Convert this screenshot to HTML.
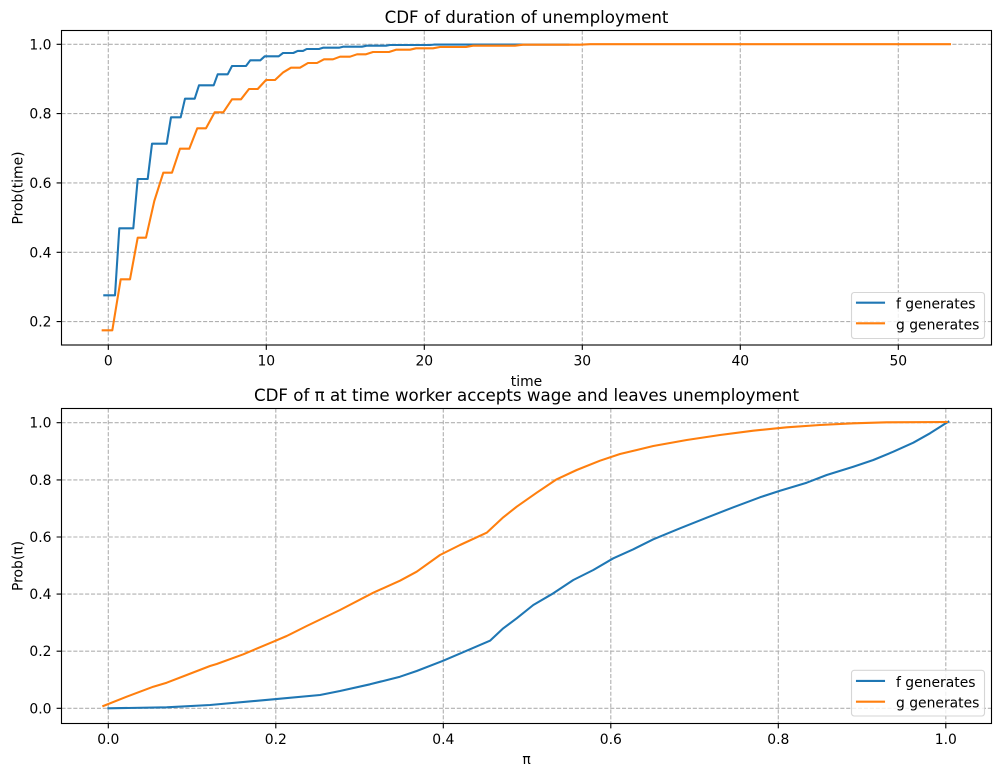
<!DOCTYPE html>
<html><head><meta charset="utf-8"><style>
html,body{margin:0;padding:0;background:#fff;}
svg{display:block;}
text{font-family:"DejaVu Sans","Liberation Sans",sans-serif;fill:#000;}
.t{font-size:13.9px;}
.ti{font-size:16.67px;}
.g{stroke:#b0b0b0;stroke-width:1.11;stroke-dasharray:4.1,1.8;fill:none;}
.tk{stroke:#000;stroke-width:1.11;}
.ln{fill:none;stroke-width:2.08;stroke-linejoin:round;stroke-linecap:square;}
</style></head><body>
<svg width="1001" height="776" viewBox="0 0 1001 776" xmlns="http://www.w3.org/2000/svg">
<rect x="0" y="0" width="1001" height="776" fill="#fff"/>

<!-- ===== TOP AXES ===== -->
<g>
<!-- grid -->
<path class="g" d="M108.3,30.5V345 M266.3,30.5V345 M424.3,30.5V345 M582.3,30.5V345 M740.3,30.5V345 M898.3,30.5V345"/>
<path class="g" d="M61.5,44.3H991.5 M61.5,113.6H991.5 M61.5,182.9H991.5 M61.5,252.3H991.5 M61.5,321.6H991.5"/>
<!-- series -->
<path class="ln" stroke="#1f77b4" d="M104.3,295.3 H115 L119.3,228.3 H133.3 L137.7,179 H147.7 L152,143.7 H166.7 L171,117.3 H180.7 L185,98.7 H194.7 L199,85.3 H213.7 L217.7,74.3 H227.7 L232,66 H246 L250.3,60.3 H260.3 L264.7,56.3 H278.7 L283,53 H293.3 L297.7,50.9 H303 L306.7,49 H319 L323,47.7 H339 L343,46.7 H362 L366.7,45.7 H386 L390,45 H430 L434,44.6 H568.3"/>
<path class="ln" stroke="#ff7f0e" d="M102.7,330.3 H112.3 L120.7,279.3 H130 L137.7,237.7 H146 L154.3,201 L163.3,172.7 H172 L180,148.7 H189.3 L197.3,128.3 H206 L214.7,112.3 H223.3 L232,99.3 H241 L249,89 H257.7 L266,80 H275 L283.3,72.3 L291,67.7 H300 L308,63 H317 L324,59.3 H333 L340,56.7 H350 L357,54.3 H366 L373,52 H389 L396,49.7 H410 L416,48.3 H433 L440,47 H466 L473,45.7 H515 L523,44.7 H580 L590,44.2 H950"/>
<!-- spines -->
<rect x="61.5" y="30.5" width="930" height="314.5" fill="none" stroke="#000" stroke-width="1.11"/>
<!-- ticks -->
<path class="tk" d="M108.3,345V349.9 M266.3,345V349.9 M424.3,345V349.9 M582.3,345V349.9 M740.3,345V349.9 M898.3,345V349.9"/>
<path class="tk" d="M56.6,44.3H61.5 M56.6,113.6H61.5 M56.6,182.9H61.5 M56.6,252.3H61.5 M56.6,321.6H61.5"/>
<g class="t" text-anchor="middle">
<text x="108.3" y="365.6">0</text>
<text x="266.3" y="365.6">10</text>
<text x="424.3" y="365.6">20</text>
<text x="582.3" y="365.6">30</text>
<text x="740.3" y="365.6">40</text>
<text x="898.3" y="365.6">50</text>
</g>
<g class="t" text-anchor="end">
<text x="51.5" y="49.3">1.0</text>
<text x="51.5" y="118.6">0.8</text>
<text x="51.5" y="187.9">0.6</text>
<text x="51.5" y="257.3">0.4</text>
<text x="51.5" y="326.6">0.2</text>
</g>
<text class="t" x="526.5" y="386" text-anchor="middle">time</text>
<text class="t" transform="translate(22.7,188) rotate(-90)" text-anchor="middle">Prob(time)</text>
<text class="ti" x="526.5" y="23" text-anchor="middle">CDF of duration of unemployment</text>
<!-- legend -->
<rect x="851.5" y="292.5" width="133" height="46" rx="2.8" ry="2.8" fill="#fff" fill-opacity="0.8" stroke="#cccccc" stroke-opacity="0.8" stroke-width="1.11"/>
<path class="ln" stroke="#1f77b4" d="M857,302.7H884"/>
<path class="ln" stroke="#ff7f0e" d="M857,323.3H884"/>
<text class="t" x="896" y="308.7">f generates</text>
<text class="t" x="896" y="329.3">g generates</text>
</g>

<!-- ===== BOTTOM AXES ===== -->
<g>
<path class="g" d="M108.3,408.5V723.5 M275.8,408.5V723.5 M443.3,408.5V723.5 M610.8,408.5V723.5 M778.3,408.5V723.5 M945.8,408.5V723.5"/>
<path class="g" d="M61.5,708.3H991.5 M61.5,651.2H991.5 M61.5,594.1H991.5 M61.5,537H991.5 M61.5,479.9H991.5 M61.5,422.7H991.5"/>
<path class="ln" stroke="#1f77b4" d="M108.3,708.3 L166.7,707.3 L210,705 L273.3,699.3 L320,695 L340,691 L370,684.3 L400,676.7 L416.7,671 L443.3,660.7 L466.7,650.7 L490,640.7 L503.3,628.3 L516.7,618.3 L533.3,605 L553.3,593.3 L573.3,580 L593.3,570 L613.3,558.3 L633.3,549.3 L653.3,539.3 L680,528.3 L706.7,517.7 L733.3,507.3 L760,497.3 L780,490.7 L806.7,482.7 L826.7,475 L853.3,466.7 L873.3,460 L893.3,451.7 L913.3,442.7 L930,433.3 L948.3,421.7"/>
<path class="ln" stroke="#ff7f0e" d="M103.3,706 L126.7,696.7 L153.3,686.7 L166.7,682.7 L186.7,675 L210,666 L216.7,664 L243.3,654.3 L273.3,641.7 L286.7,636 L306.7,626 L340,610 L373.3,592.7 L400,580.7 L416.7,571.7 L440,555 L460,545 L486.7,532.7 L503.3,517.3 L516.7,506.7 L536.7,492.7 L556.7,479.3 L576.7,470 L600,460.7 L620,454 L653.3,446 L686.7,440 L720,435 L753.3,430.7 L786.7,427.3 L820,425 L853.3,423.3 L886.7,422.3 L946.7,422"/>
<rect x="61.5" y="408.5" width="930" height="315" fill="none" stroke="#000" stroke-width="1.11"/>
<path class="tk" d="M108.3,723.5V728.4 M275.8,723.5V728.4 M443.3,723.5V728.4 M610.8,723.5V728.4 M778.3,723.5V728.4 M945.8,723.5V728.4"/>
<path class="tk" d="M56.6,708.3H61.5 M56.6,651.2H61.5 M56.6,594.1H61.5 M56.6,537H61.5 M56.6,479.9H61.5 M56.6,422.7H61.5"/>
<g class="t" text-anchor="middle">
<text x="108.3" y="744">0.0</text>
<text x="275.8" y="744">0.2</text>
<text x="443.3" y="744">0.4</text>
<text x="610.8" y="744">0.6</text>
<text x="778.3" y="744">0.8</text>
<text x="945.8" y="744">1.0</text>
</g>
<g class="t" text-anchor="end">
<text x="51.5" y="713.3">0.0</text>
<text x="51.5" y="656.2">0.2</text>
<text x="51.5" y="599.1">0.4</text>
<text x="51.5" y="542">0.6</text>
<text x="51.5" y="484.9">0.8</text>
<text x="51.5" y="427.7">1.0</text>
</g>
<text class="t" x="526.5" y="764" text-anchor="middle">π</text>
<text class="t" transform="translate(22.7,566) rotate(-90)" text-anchor="middle">Prob(π)</text>
<text class="ti" x="526.5" y="401" text-anchor="middle">CDF of π at time worker accepts wage and leaves unemployment</text>
<rect x="851.5" y="670.3" width="133" height="45.7" rx="2.8" ry="2.8" fill="#fff" fill-opacity="0.8" stroke="#cccccc" stroke-opacity="0.8" stroke-width="1.11"/>
<path class="ln" stroke="#1f77b4" d="M857,680.9H884"/>
<path class="ln" stroke="#ff7f0e" d="M857,701.7H884"/>
<text class="t" x="896" y="686.8">f generates</text>
<text class="t" x="896" y="707.6">g generates</text>
</g>
</svg>
</body></html>
